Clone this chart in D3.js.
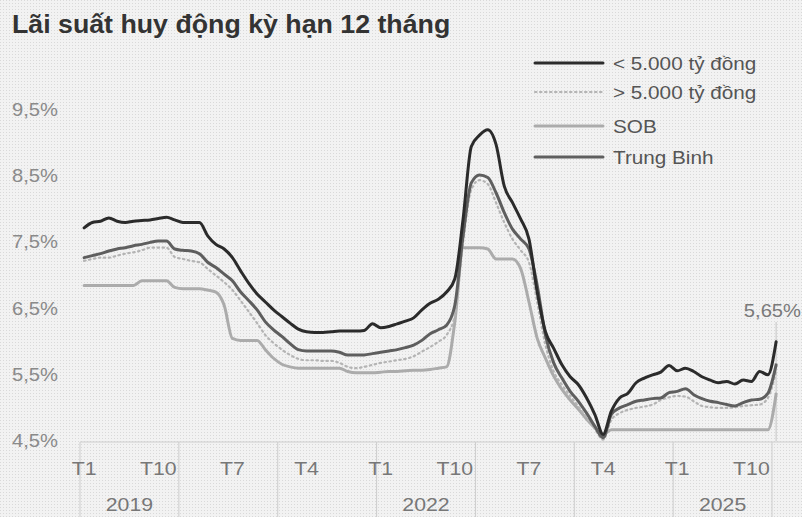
<!DOCTYPE html>
<html>
<head>
<meta charset="utf-8">
<script src="https://cdn.jsdelivr.net/npm/d3@7"></script>
<style>
	html, body { margin: 0; padding: 0; background: #f1f1f1; }
	svg { display: block; }
</style>
</head>
<body>
<div id="chart"></div>
<script>
// monthly values, T1/2019 .. T1/2026 (85 points)
var duoi5000 = [
	7.72, 7.80, 7.82, 7.87, 7.82, 7.80, 7.82, 7.83, 7.84, 7.86, 7.88, 7.84,
	7.80, 7.80, 7.80, 7.60, 7.47, 7.40, 7.27, 7.07, 6.88, 6.72, 6.60, 6.48,
	6.38, 6.28, 6.19, 6.15, 6.14, 6.14, 6.15, 6.16, 6.16, 6.16, 6.17, 6.27,
	6.21, 6.23, 6.27, 6.31, 6.36, 6.48, 6.58, 6.64, 6.75, 6.95, 7.85, 8.95,
	9.12, 9.20, 8.98, 8.35, 8.10, 7.85, 7.55, 6.75, 6.15, 5.90, 5.65, 5.47,
	5.35, 5.15, 4.90, 4.60, 4.95, 5.15, 5.22, 5.38, 5.45, 5.50, 5.54, 5.64,
	5.56, 5.60, 5.55, 5.47, 5.42, 5.38, 5.40, 5.36, 5.42, 5.40, 5.55, 5.50,
	6.00
];
var tren5000 = [
	7.22, 7.25, 7.27, 7.27, 7.30, 7.33, 7.35, 7.38, 7.42, 7.42, 7.42, 7.28,
	7.25, 7.22, 7.20, 7.10, 7.00, 6.90, 6.78, 6.62, 6.45, 6.28, 6.10, 5.98,
	5.88, 5.80, 5.74, 5.72, 5.72, 5.71, 5.71, 5.68, 5.62, 5.60, 5.62, 5.65,
	5.68, 5.70, 5.72, 5.74, 5.78, 5.85, 5.92, 6.00, 6.10, 6.40, 7.50, 8.30,
	8.44, 8.38, 8.10, 7.80, 7.55, 7.38, 7.20, 6.60, 5.95, 5.55, 5.35, 5.18,
	5.02, 4.85, 4.68, 4.52, 4.82, 4.92, 4.97, 5.00, 5.02, 5.05, 5.12, 5.16,
	5.18, 5.17, 5.10, 5.03, 5.01, 5.00, 5.00, 5.01, 5.03, 5.04, 5.05, 5.15,
	5.55
];
var sob = [
	6.85, 6.85, 6.85, 6.85, 6.85, 6.85, 6.85, 6.92, 6.92, 6.92, 6.92, 6.82,
	6.80, 6.80, 6.80, 6.78, 6.75, 6.55, 6.05, 6.02, 6.02, 6.02, 5.88, 5.75,
	5.66, 5.62, 5.60, 5.60, 5.60, 5.60, 5.60, 5.60, 5.55, 5.53, 5.53, 5.53,
	5.54, 5.55, 5.55, 5.56, 5.57, 5.57, 5.58, 5.60, 5.62, 6.30, 7.42, 7.42,
	7.42, 7.40, 7.25, 7.25, 7.25, 7.10, 6.60, 6.05, 5.75, 5.48, 5.28, 5.12,
	4.98, 4.83, 4.70, 4.60, 4.67, 4.67, 4.67, 4.67, 4.67, 4.67, 4.67, 4.67,
	4.67, 4.67, 4.67, 4.67, 4.67, 4.67, 4.67, 4.67, 4.67, 4.67, 4.67, 4.67,
	5.21
];
var trungBinh = [
	7.27, 7.30, 7.33, 7.37, 7.40, 7.42, 7.45, 7.47, 7.50, 7.52, 7.52, 7.40,
	7.38, 7.37, 7.33, 7.20, 7.12, 7.02, 6.92, 6.75, 6.62, 6.48, 6.30, 6.18,
	6.08, 5.97, 5.88, 5.86, 5.86, 5.86, 5.86, 5.84, 5.80, 5.80, 5.80, 5.82,
	5.84, 5.86, 5.88, 5.91, 5.95, 6.02, 6.12, 6.18, 6.25, 6.55, 7.60, 8.40,
	8.52, 8.48, 8.25, 7.95, 7.70, 7.55, 7.40, 6.85, 6.10, 5.68, 5.45, 5.25,
	5.10, 4.92, 4.72, 4.55, 4.90, 5.00, 5.05, 5.10, 5.12, 5.14, 5.15, 5.23,
	5.25, 5.29, 5.20, 5.14, 5.10, 5.08, 5.05, 5.03, 5.08, 5.12, 5.13, 5.22,
	5.65
];

// axis labels
var yTicks = [4.5, 5.5, 6.5, 7.5, 8.5, 9.5];
var monthTicks = [0, 9, 18, 27, 36, 45, 54, 63, 72, 81];
var monthLabels = ["T1", "T10", "T7", "T4", "T1", "T10", "T7", "T4", "T1", "T10"];
var years = [2019, 2020, 2021, 2022, 2023, 2024, 2025];
var yearLabels = {2019: "2019", 2022: "2022", 2025: "2025"};
var lastLabel = "5,65%";

var legendNames = ["< 5.000 tỷ đồng", "> 5.000 tỷ đồng", "SOB", "Trung Binh"];

var width = 802, height = 517;
var FONT = "'Liberation Sans', Arial, sans-serif";
var SX = 1.12; // scanned picture is a little wider than tall

var x = d3.scaleLinear().domain([-0.5, 83.5]).range([80, 772]);
var y = d3.scaleLinear().domain([4.5, 9.5]).range([441, 110]);

var svg = d3.select("#chart").append("svg")
	.attr("width", width)
	.attr("height", height);

// newsprint dot screen
var pat = svg.append("defs").append("pattern")
	.attr("id", "screen")
	.attr("width", 3)
	.attr("height", 3)
	.attr("patternUnits", "userSpaceOnUse");
pat.append("rect").attr("width", 3).attr("height", 3).attr("fill", "#f2f2f2");
pat.append("rect").attr("width", 1).attr("height", 1).attr("fill", "#d9d9d9");

svg.append("rect")
	.attr("width", width)
	.attr("height", height)
	.attr("fill", "url(#screen)");

var addText = function (g, px, py, str, size, fill, anchor, weight, sx) {
	return g.append("text")
		.attr("transform", "translate(" + px + "," + py + ") scale(" + (sx || SX) + ",1)")
		.attr("font-family", FONT)
		.attr("font-size", size + "px")
		.attr("font-weight", weight || "normal")
		.attr("fill", fill)
		.attr("text-anchor", anchor || "start")
		.text(str);
};

// title
addText(svg, 12, 33, "Lãi suất huy động kỳ hạn 12 tháng", 25, "#333", "start", "bold", 1.07);

// y labels
var gy = svg.append("g");
yTicks.forEach(function (v) {
	addText(gy, 12, y(v) + 6, (v.toFixed(1) + "%").replace(".", ","), 18, "#8a8a8a");
});

// x axis band
var gx = svg.append("g");
gx.append("line")
	.attr("x1", 80).attr("x2", width)
	.attr("y1", 442).attr("y2", 442)
	.attr("stroke", "#cdcdcd").attr("stroke-width", 1);

years.concat([2026]).forEach(function (yr) {
	var bx = x((yr - 2019) * 12 - 0.5);
	gx.append("line")
		.attr("x1", bx).attr("x2", bx)
		.attr("y1", 442).attr("y2", height)
		.attr("stroke", "#cdcdcd").attr("stroke-width", 1);
});

monthTicks.forEach(function (m, i) {
	addText(gx, x(m), 475, monthLabels[i], 19, "#777", "middle");
});

years.forEach(function (yr) {
	if (yearLabels[yr]) {
		addText(gx, x((yr - 2019) * 12 + 5.5), 511, yearLabels[yr], 19, "#777", "middle");
	}
});

// series
var series = [
	{name: legendNames[2], values: sob, color: "#ababab", width: 3, dash: null},
	{name: legendNames[1], values: tren5000, color: "#b4b4b4", width: 2.2, dash: "1.5,3.5"},
	{name: legendNames[3], values: trungBinh, color: "#5e5e5e", width: 3, dash: null},
	{name: legendNames[0], values: duoi5000, color: "#2b2b2b", width: 3, dash: null}
];

var line = d3.line()
	.x(function (d, i) { return x(i); })
	.y(function (d) { return y(d); })
	.curve(d3.curveMonotoneX);

var lastIdx = trungBinh.length - 1;

// marker line for the last value
svg.append("line")
	.attr("x1", x(lastIdx)).attr("x2", x(lastIdx))
	.attr("y1", 322).attr("y2", 441)
	.attr("stroke", "#c4c4c4").attr("stroke-width", 1);

series.forEach(function (s) {
	svg.append("path")
		.datum(s.values)
		.attr("fill", "none")
		.attr("stroke", s.color)
		.attr("stroke-width", s.width)
		.attr("stroke-linejoin", "round")
		.attr("stroke-linecap", "round")
		.attr("stroke-dasharray", s.dash)
		.attr("d", line);
});

addText(svg, 801, 317, lastLabel, 18, "#7a7a7a", "end");

// legend
var legendRows = [
	{name: legendNames[0], color: "#2b2b2b", width: 3, dash: null},
	{name: legendNames[1], color: "#b4b4b4", width: 2.2, dash: "1.5,3.5"},
	{name: legendNames[2], color: "#ababab", width: 3, dash: null},
	{name: legendNames[3], color: "#5e5e5e", width: 3, dash: null}
];
var legendY = [63, 92, 126, 157];
var gl = svg.append("g");
legendRows.forEach(function (r, i) {
	gl.append("line")
		.attr("x1", 535).attr("x2", 603)
		.attr("y1", legendY[i]).attr("y2", legendY[i])
		.attr("stroke", r.color)
		.attr("stroke-width", r.width)
		.attr("stroke-linecap", "round")
		.attr("stroke-dasharray", r.dash);
	addText(gl, 613, legendY[i] + 6.5, r.name, 18.5, "#555");
});
</script>
</body>
</html>
